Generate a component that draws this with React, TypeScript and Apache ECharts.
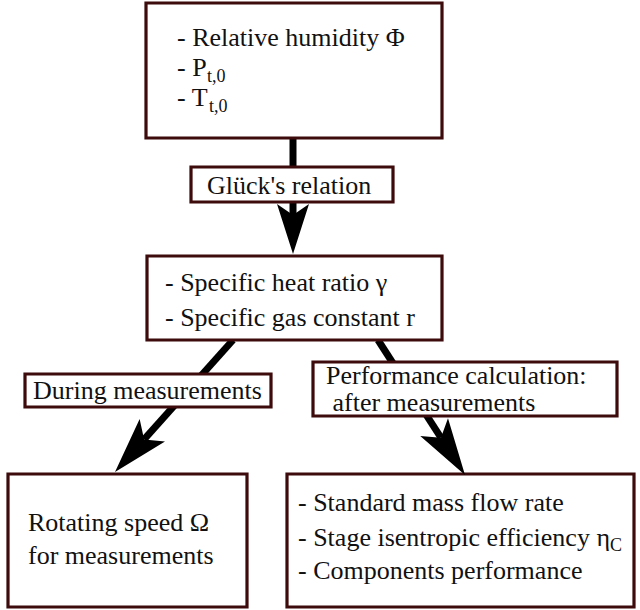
import React, { useEffect, useRef } from "react";
import * as echarts from "echarts";

const topLines = ["- Relative humidity Φ", "- P", "- T"];
const topSubs = ["", "t,0", "t,0"];
const relationLabel = "Glück's relation";
const gasLines = ["- Specific heat ratio γ", "- Specific gas constant r"];
const duringLabel = "During measurements";
const perfHeaderLines = ["Performance calculation:", " after measurements"];
const rotLines = ["Rotating speed Ω", "for measurements"];
const perfLines = ["- Standard mass flow rate", "- Stage isentropic efficiency η", "- Components performance"];
const perfSubs = ["", "C", ""];

const FONT = "Liberation Serif, Times New Roman, serif";
const BORDER = "#3d0b0b";
const INK = "#111111";

function txt(text: string, x: number, y: number, size = 26): any {
  return {
    type: "text",
    x,
    y,
    z: 10,
    style: {
      text,
      fill: INK,
      fontFamily: FONT,
      fontSize: size,
      lineHeight: size,
      textAlign: "left",
      align: "left",
      textVerticalAlign: "middle",
      verticalAlign: "middle",
    },
  };
}

function box(x1: number, y1: number, x2: number, y2: number): any {
  return {
    type: "rect",
    z: 5,
    shape: { x: x1, y: y1, width: x2 - x1, height: y2 - y1 },
    style: { fill: "#ffffff", stroke: BORDER, lineWidth: 3.2 },
  };
}

function arrow(from: number[], tip: number[], len: number, hw: number, notch: number): any[] {
  const dx = tip[0] - from[0];
  const dy = tip[1] - from[1];
  const L = Math.hypot(dx, dy);
  const ux = dx / L, uy = dy / L;
  const px = -uy, py = ux;
  const bx = tip[0] - ux * len, by = tip[1] - uy * len;
  const nx = tip[0] - ux * len * notch, ny = tip[1] - uy * len * notch;
  return [
    {
      type: "line",
      z: 1,
      shape: { x1: from[0], y1: from[1], x2: nx, y2: ny },
      style: { stroke: "#000", lineWidth: 7 },
    },
    {
      type: "polygon",
      z: 20,
      shape: {
        points: [
          [tip[0], tip[1]],
          [bx + px * hw, by + py * hw],
          [nx, ny],
          [bx - px * hw, by - py * hw],
        ],
      },
      style: { fill: "#000" },
    },
  ];
}

export default function App() {
  const ref = useRef<HTMLDivElement>(null);
  useEffect(() => {
    if (!ref.current) return;
    const chart = echarts.init(ref.current, undefined, { renderer: "svg" });
    const els: any[] = [];

    // connectors
    els.push(...arrow([293, 138], [293, 254], 50, 16, 0.78));
    els.push(...arrow([233, 340], [115, 472], 56, 17, 0.78));
    els.push(...arrow([378, 340], [465, 475], 57, 16.5, 0.78));

    // boxes
    els.push(box(146, 3, 442, 138));
    els.push(box(191, 167, 393, 202));
    els.push(box(147, 256, 442, 340));
    els.push(box(25, 374, 271, 407));
    els.push(box(313, 362, 617, 416));
    els.push(box(8, 474, 247, 607));
    els.push(box(287, 474, 634, 607));

    // top box text
    const topY = [37, 67, 97];
    const topSubX = [0, 207, 209];
    topLines.forEach((t, i) => {
      els.push(txt(t, 177, topY[i]));
      if (topSubs[i]) els.push(txt(topSubs[i], topSubX[i], topY[i] + 8.5, 18));
    });

    els.push(txt(relationLabel, 207, 185));

    const gasY = [282, 317];
    gasLines.forEach((t, i) => els.push(txt(t, 165, gasY[i])));

    els.push(txt(duringLabel, 33, 390));

    const perfHY = [375, 402];
    perfHeaderLines.forEach((t, i) => els.push(txt(t, 326, perfHY[i])));

    const rotY = [522, 555];
    rotLines.forEach((t, i) => els.push(txt(t, 28, rotY[i])));

    const perfY = [502, 537, 570];
    const perfSubX = [0, 610, 0];
    perfLines.forEach((t, i) => {
      els.push(txt(t, 298, perfY[i]));
      if (perfSubs[i]) els.push(txt(perfSubs[i], perfSubX[i], perfY[i] + 7.5, 18));
    });

    chart.setOption({
      animation: false,
      backgroundColor: "#ffffff",
      textStyle: { fontFamily: FONT },
      graphic: { elements: els },
    });
    return () => chart.dispose();
  }, []);
  return (
    <div
      ref={ref}
      style={{ position: "fixed", left: 0, top: 0, width: 640, height: 610, background: "#fff" }}
    />
  );
}
